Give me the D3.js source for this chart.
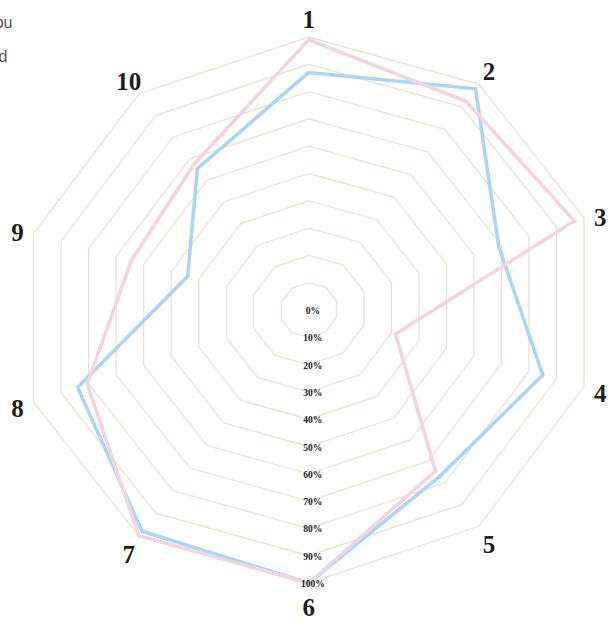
<!DOCTYPE html>
<html>
<head>
<meta charset="utf-8">
<script src="https://cdn.jsdelivr.net/npm/d3@7"></script>
<style>
  body { margin: 0; background: #fff; }
</style>
</head>
<body>
<div id="my_dataviz"></div>
<script>
// axes, grid levels and the two series (values as share of max)
var axisNames = ["1", "2", "3", "4", "5", "6", "7", "8", "9", "10"];
var levels = [0, 0.1, 0.2, 0.3, 0.4, 0.5, 0.6, 0.7, 0.8, 0.9, 1.0];
var levelLabels = ["0%", "10%", "20%", "30%", "40%", "50%", "60%", "70%", "80%", "90%", "100%"];
var seriesBlue = [0.87, 0.98, 0.69, 0.85, 0.77, 1.0, 0.98, 0.84, 0.44, 0.655];
var seriesPink = [0.99, 0.925, 0.965, 0.315, 0.745, 1.0, 1.0, 0.805, 0.645, 0.675];

var width = 608,
    height = 617,
    cx = 308.8,
    cy = 310,
    radius = 273,
    stretchX = 1.06,   // the picture is a touch wider than tall
    skewY = -0.0286;   // and leans a little to the right

var svg = d3.select("#my_dataviz")
  .append("svg")
  .attr("width", width)
  .attr("height", height);

var rScale = d3.scaleLinear()
  .domain([0, 1])
  .range([0, radius]);

var angle = d3.scaleLinear()
  .domain([0, axisNames.length])
  .range([0, 2 * Math.PI]);

// polar -> screen, including the stretch/skew of the original
function project(i, r) {
  var a = angle(i);
  var x = r * Math.sin(a),
      y = -r * Math.cos(a);
  return [cx + stretchX * x, cy + skewY * stretchX * x + y];
}

var line = d3.line().curve(d3.curveLinearClosed);

// grid decagons
svg.append("g")
  .selectAll("path")
  .data(levels.filter(function(d) { return d > 0; }))
  .enter()
  .append("path")
  .attr("d", function(lv) {
    return line(axisNames.map(function(n, i) { return project(i, rScale(lv)); }));
  })
  .style("fill", "none")
  .style("stroke", "#e9e2d1")
  .style("stroke-width", 1.3);

// series
var series = [
  { values: seriesBlue, color: "#acd5f4" },
  { values: seriesPink, color: "#f1d5df" }
];
svg.append("g")
  .selectAll("path")
  .data(series)
  .enter()
  .append("path")
  .attr("d", function(s) {
    return line(s.values.map(function(v, i) { return project(i, rScale(v)); }));
  })
  .style("fill", "none")
  .style("stroke", function(s) { return s.color; })
  .style("stroke-width", 3.6)
  .style("stroke-linejoin", "miter");

// level labels down the 6 axis
svg.append("g")
  .selectAll("text")
  .data(levels)
  .enter()
  .append("text")
  .attr("x", cx + 4)
  .attr("y", function(d) { return cy + rScale(d) + 1; })
  .attr("text-anchor", "middle")
  .attr("dominant-baseline", "central")
  .style("font-family", "'Liberation Serif', 'DejaVu Serif', serif")
  .style("font-weight", "bold")
  .style("font-size", "9.5px")
  .style("fill", "#222")
  .text(function(d, i) { return levelLabels[i]; });

// axis names, pushed out from the outer vertex
function labelPos(i) {
  var p = project(i, radius),
      a = angle(i),
      c = Math.cos(a);
  return [p[0] + 17 * Math.sin(a),
          p[1] - 21 * Math.sign(c) * Math.pow(Math.abs(c), 1.5) + 3];
}
svg.append("g")
  .selectAll("text")
  .data(axisNames)
  .enter()
  .append("text")
  .attr("x", function(d, i) { return labelPos(i)[0]; })
  .attr("y", function(d, i) { return labelPos(i)[1]; })
  .attr("text-anchor", "middle")
  .attr("dominant-baseline", "central")
  .style("font-family", "'Liberation Serif', 'DejaVu Serif', serif")
  .style("font-weight", "bold")
  .style("font-size", "25px")
  .style("fill", "#1e1e1e")
  .text(function(d) { return d; });

// cut-off intro text at the top left
var introLines = [
  { text: "you", x: 12.5, y: 28 },
  { text: "and", x: 7.5, y: 62 }
];
svg.append("g")
  .selectAll("text")
  .data(introLines)
  .enter()
  .append("text")
  .attr("x", function(d) { return d.x; })
  .attr("y", function(d) { return d.y; })
  .attr("text-anchor", "end")
  .style("font-family", "'Liberation Sans', Arial, sans-serif")
  .style("font-size", "16px")
  .style("fill", "#555")
  .text(function(d) { return d.text; });
</script>
</body>
</html>
